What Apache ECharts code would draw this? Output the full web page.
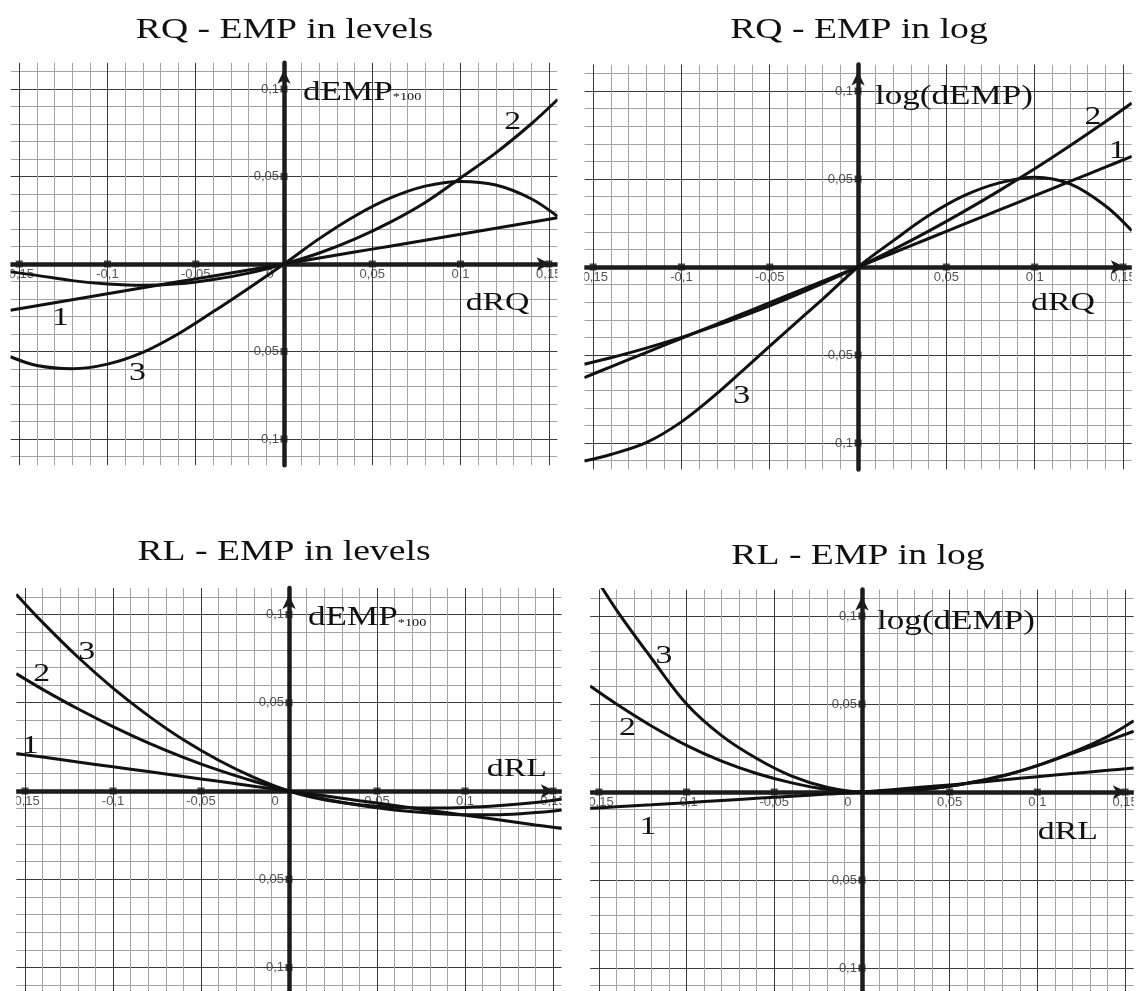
<!DOCTYPE html>
<html><head><meta charset="utf-8">
<script src="https://cdn.jsdelivr.net/npm/echarts@6/dist/echarts.min.js"></script>
<style>html,body{margin:0;padding:0;background:#fff}#c{width:1140px;height:991px}</style>
</head><body><div id="c"></div>
<script>
// ---------- DATA ----------
const xs = [-0.155,-0.14,-0.12,-0.1,-0.08,-0.06,-0.04,-0.02,0,0.02,0.04,0.06,0.08,0.1,0.12,0.14,0.155];
// RQ - EMP in levels
const rqLev1 = [-0.0264,-0.0238,-0.0204,-0.017,-0.0136,-0.0102,-0.0068,-0.0034,0,0.0034,0.0068,0.0102,0.0136,0.017,0.0204,0.0238,0.0264];
const rqLev2 = [-0.0045,-0.0065,-0.0095,-0.0114,-0.0122,-0.0113,-0.0088,-0.0052,0,0.0063,0.0142,0.0238,0.0352,0.0492,0.0635,0.080,0.094];
const rqLev3 = [-0.053,-0.058,-0.0598,-0.0572,-0.0505,-0.040,-0.0272,-0.0138,0,0.0145,0.0273,0.0376,0.0445,0.0472,0.0451,0.0373,0.0272];
// RQ - EMP in log
const rqLog1 = [-0.0628,-0.0567,-0.0486,-0.0405,-0.0324,-0.0243,-0.0162,-0.0081,0,0.0081,0.0162,0.0243,0.0324,0.0405,0.0486,0.0567,0.0628];
const rqLog2 = [-0.0553,-0.0516,-0.0461,-0.040,-0.0332,-0.0259,-0.0179,-0.0093,0,0.0099,0.0204,0.0316,0.0434,0.0558,0.0689,0.0825,0.0932];
const rqLog3 = [-0.1102,-0.1065,-0.0998,-0.088,-0.072,-0.054,-0.036,-0.0182,0,0.015,0.0292,0.0405,0.0478,0.051,0.0472,0.0348,0.0206];
// RL - EMP in levels
const rlLev1 = [0.0212,0.0192,0.0164,0.0137,0.011,0.0082,0.0055,0.0027,0,-0.0027,-0.0055,-0.0082,-0.011,-0.0137,-0.0164,-0.0192,-0.0212];
const rlLev2 = [0.0665,0.0576,0.0466,0.0365,0.0273,0.0191,0.0118,0.0055,0,-0.0045,-0.0081,-0.0108,-0.0125,-0.0135,-0.0134,-0.0122,-0.0107];
const rlLev3 = [0.1115,0.0955,0.0759,0.0583,0.0427,0.029,0.0174,0.0077,0,-0.005,-0.0078,-0.0092,-0.0096,-0.0093,-0.0082,-0.0065,-0.0045];
// RL - EMP in log
const rlLog1 = [-0.0093,-0.0084,-0.0073,-0.0061,-0.0048,-0.0036,-0.0024,-0.0012,0,0.0016,0.0032,0.0049,0.0068,0.0087,0.0105,0.0123,0.0137];
const rlLog2 = [0.0602,0.050,0.0375,0.0265,0.0175,0.0105,0.0052,0.0015,0,0.0005,0.002,0.005,0.0092,0.015,0.022,0.029,0.0345];
const rlLog3 = [0.127,0.1035,0.076,0.050,0.032,0.019,0.009,0.0027,0,0.0005,0.002,0.005,0.009,0.015,0.0225,0.0315,0.0405];

const xTickVals = [-0.15,-0.1,-0.05,0.05,0.1,0.15];
const yTickVals = [-0.1,-0.05,0.05,0.1];
const xLabelVals = [-0.15,-0.1,-0.05,0,0.05,0.1,0.15];
const yLabelVals = [-0.1,-0.05,0.05,0.1];
const titles = ['RQ - EMP in levels','RQ - EMP in log','RL - EMP in levels','RL - EMP in log'];
const curveNames = ['1','2','3'];
const panelSeries = [[rqLev1,rqLev2,rqLev3],[rqLog1,rqLog2,rqLog3],[rlLev1,rlLev2,rlLev3],[rlLog1,rlLog2,rlLog3]];
const yNames = [['dEMP','*100'],['log(dEMP)',''],['dEMP','*100'],['log(dEMP)','']];
const xNames = ['dRQ','dRQ','dRL','dRL'];

// ---------- LAYOUT ----------
const X_MIN=-0.155, X_MAX=0.155, Y_MIN=-0.115, Y_MAX=0.115;
const grids = [
  {left:10.4, top:62.75, width:547.2, height:402.5},
  {left:584.3, top:64.6, width:547.5, height:404.8},
  {left:16.2, top:588, width:545.6, height:406},
  {left:590.1, top:589.6, width:543.7, height:404.8}
];
const titlePos = [[284.5,30],[859,30],[284,552],[858,556]];
const annot = [
  {yName:[0.0108,0.098], xName:[0.121,-0.0223], c:[[-0.1267,-0.0309],[0.1295,0.081],[-0.083,-0.0623]]},
  {yName:[0.0096,0.0966], xName:[0.116,-0.0205], c:[[0.1467,0.066],[0.133,0.085],[-0.0659,-0.0732]]},
  {yName:[0.0108,0.098], xName:[0.1295,0.0122], c:[[-0.147,0.0256],[-0.1405,0.0662],[-0.115,0.0785]]},
  {yName:[0.0086,0.0968], xName:[0.1174,-0.0231], c:[[-0.122,-0.0199],[-0.1337,0.0362],[-0.1129,0.0769]]}
];
const MAJOR='#3a3a3a', MINOR='#a4a4a4', STEP=0.005;
const SERIF='"Liberation Serif", "Times New Roman", serif';
const SANS='"Liberation Sans", Arial, sans-serif';
const SX=1.3;

function lineColors(min){
  const arr=[];
  for(let i=0;i<10;i++){
    const k=Math.round((min+i*STEP)/STEP);
    if(k%2!==0) arr.push('rgba(0,0,0,0)');
    else if(k%10===0) arr.push(MAJOR);
    else arr.push(MINOR);
  }
  return arr;
}
function fmt(v){ return String(v).replace('.',','); }

const chart = echarts.init(document.getElementById('c'), null, {renderer:'canvas'});
const xAxis=[], yAxis=[], series=[];
const axisLineStyle = {onZero:true, symbol:['none','arrow'], symbolSize:[10,14], symbolOffset:[0,-7], lineStyle:{color:'#1c1c1c', width:4.5}};
grids.forEach((g,p)=>{
  xAxis.push({gridIndex:p, type:'value', min:X_MIN, max:X_MAX, interval:STEP,
    axisLine:axisLineStyle, axisTick:{show:false}, axisLabel:{show:false},
    splitLine:{show:true, lineStyle:{color:lineColors(X_MIN), width:1}}});
  yAxis.push({gridIndex:p, type:'value', min:Y_MIN, max:Y_MAX, interval:STEP,
    axisLine:axisLineStyle, axisTick:{show:false}, axisLabel:{show:false},
    splitLine:{show:true, lineStyle:{color:lineColors(Y_MIN), width:1}}});
  panelSeries[p].forEach((ys,ci)=>{
    series.push({type:'line', name:titles[p]+' '+curveNames[ci], xAxisIndex:p, yAxisIndex:p,
      data:xs.map((x,i)=>[x,ys[i]]), smooth:0.35, showSymbol:false, silent:true, z:5,
      lineStyle:{color:'#111', width:3}});
  });
  series.push({type:'scatter', xAxisIndex:p, yAxisIndex:p, symbol:'rect', symbolSize:7, silent:true, z:6,
    itemStyle:{color:'#1c1c1c'},
    data:xTickVals.map(v=>[v,0]).concat(yTickVals.map(v=>[0,v]))});
  series.push({type:'scatter', xAxisIndex:p, yAxisIndex:p, symbolSize:0, silent:true, z:4,
    data:xLabelVals.map(v=>({value:[v,0], label: v===0 ? {offset:[-14,0]} : {}})),
    label:{show:true, position:'bottom', distance:4, color:'#2a2a2a', fontSize:13, fontFamily:SANS,
      formatter:d=>fmt(d.value[0])}});
  series.push({type:'scatter', xAxisIndex:p, yAxisIndex:p, symbolSize:0, silent:true, z:4,
    data:yLabelVals.map(v=>[0,v]),
    label:{show:true, position:'left', distance:5, color:'#2a2a2a', fontSize:13, fontFamily:SANS,
      formatter:d=>fmt(d.value[1])}});
});

chart.setOption({
  animation:false, backgroundColor:'#fff',
  grid:grids.map(g=>Object.assign({containLabel:false, outerBoundsMode:'none'},g)),
  xAxis, yAxis, series
});

const gr=[];
grids.forEach(g=>{
  gr.push({type:'rect', z:100, silent:true, shape:{x:g.left-25, y:g.top-2, width:25, height:g.height+4}, style:{fill:'#fff'}});
  gr.push({type:'rect', z:100, silent:true, shape:{x:g.left+g.width, y:g.top-2, width:25, height:g.height+4}, style:{fill:'#fff'}});
});
titles.forEach((t,p)=>{
  gr.push({type:'text', z:110, x:titlePos[p][0], y:titlePos[p][1], scaleX:SX,
    style:{text:t, fill:'#111', font:'29px '+SERIF, align:'center', verticalAlign:'middle'}});
});
function px(p,pt){ return chart.convertToPixel({gridIndex:p},pt); }
annot.forEach((a,p)=>{
  const yn=px(p,a.yName);
  const yText = yNames[p][1] ? '{a|'+yNames[p][0]+'}{b|'+yNames[p][1]+'}' : '{a|'+yNames[p][0]+'}';
  gr.push({type:'text', z:110, x:yn[0], y:yn[1], scaleX:SX,
    style:{text:yText, align:'left', verticalAlign:'middle', fill:'#111',
      rich:{a:{font:'27px '+SERIF, fill:'#111'}, b:{font:'11px '+SERIF, fill:'#111', verticalAlign:'bottom', padding:[0,0,3,0]}}}});
  const xn=px(p,a.xName);
  gr.push({type:'text', z:110, x:xn[0], y:xn[1], scaleX:SX,
    style:{text:xNames[p], fill:'#111', font:'26px '+SERIF, align:'center', verticalAlign:'middle'}});
  a.c.forEach((pt,ci)=>{
    const q=px(p,pt);
    gr.push({type:'text', z:110, x:q[0], y:q[1], scaleX:SX,
      style:{text:curveNames[ci], fill:'#111', font:'26px '+SERIF, align:'center', verticalAlign:'middle'}});
  });
});
chart.setOption({graphic:gr});
</script>
</body></html>
